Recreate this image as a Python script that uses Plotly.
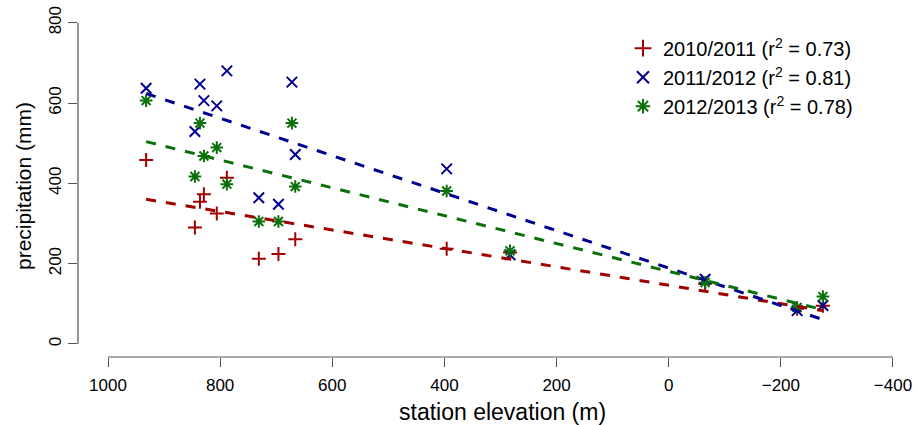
import numpy as np
import plotly.graph_objects as go

# ---- data ----
elevation = [932, 845, 836, 829, 806, 788, 731, 696, 672, 666, 396, 283, -65, -229, -275]

precip_2010_2011 = [458, 290, 354, 373, 325, 414, 212, 224, None, 261, 237, 228, 150, 88, 95]
precip_2011_2012 = [637, 529, 647, 606, 593, 680, 364, 348, 652, 472, 436, 222, 161, 83, 96]
precip_2012_2013 = [606, 417, 550, 468, 489, 398, 305, 305, 550, 392, 381, 232, 153, 91, 118]

series_names = ["2010/2011", "2011/2012", "2012/2013"]
r2_labels = ["0.73", "0.81", "0.78"]
series_colors = ["#a00000", "#000090", "#0a700a"]
series_symbols = ["cross-thin", "x-thin", "asterisk-open"]
series_sizes = [10, 10.5, 10.5]

x_ticks = [1000, 800, 600, 400, 200, 0, -200, -400]
x_ticktext = ["1000", "800", "600", "400", "200", "0", "\u2212200", "\u2212400"]
y_ticks = [0, 200, 400, 600, 800]

x_title = "station elevation (m)"
y_title = "precipitation (mm)"

all_series = [precip_2010_2011, precip_2011_2012, precip_2012_2013]

fig = go.Figure()

# points
for name, r2, vals, col, sym, sz in zip(series_names, r2_labels, all_series,
                                         series_colors, series_symbols, series_sizes):
    fig.add_trace(go.Scatter(
        x=elevation, y=vals, mode="markers",
        name=f"{name} (r<sup>2</sup> = {r2})",
        marker=dict(symbol=sym, size=sz, color=col,
                    line=dict(color=col, width=2)),
    ))

# regression lines (least squares fit of each series)
for vals, col in zip(all_series, series_colors):
    xs = np.array([e for e, v in zip(elevation, vals) if v is not None], dtype=float)
    ys = np.array([v for v in vals if v is not None], dtype=float)
    slope, intercept = np.polyfit(xs, ys, 1)
    xl = np.array([xs.max(), xs.min()])
    fig.add_trace(go.Scatter(
        x=xl, y=slope * xl + intercept, mode="lines", showlegend=False,
        line=dict(color=col, width=3, dash="10px,10px"), hoverinfo="skip",
    ))

axis_col = "#555555"
font_main = "Liberation Sans, Arial, Helvetica, sans-serif"

fig.add_shape(type="line", xref="x", yref="paper", x0=x_ticks[0], x1=x_ticks[-1],
              y0=0, y1=0, line=dict(color=axis_col, width=1.2))
fig.add_shape(type="line", xref="paper", yref="y", x0=0, x1=0,
              y0=y_ticks[0], y1=y_ticks[-1], line=dict(color=axis_col, width=1.2))

fig.add_annotation(text=x_title, xref="paper", yref="paper", x=0.517, y=-0.161,
                   xanchor="center", yanchor="middle", showarrow=False,
                   font=dict(size=23, family=font_main, color="black"))

fig.update_layout(
    width=918, height=425,
    margin=dict(l=78, r=18, t=15, b=68, autoexpand=False),
    paper_bgcolor="white", plot_bgcolor="white",
    font=dict(family=font_main, color="black", size=17),
    showlegend=True,
    legend=dict(x=0.663, y=0.96, xanchor="left", yanchor="top",
                font=dict(size=20, family=font_main), bgcolor="rgba(0,0,0,0)",
                tracegroupgap=0, itemsizing="constant"),
    xaxis=dict(range=[1053.5, -412.5], tickvals=x_ticks, ticktext=x_ticktext,
               ticks="outside", ticklen=9, tickwidth=1.2, tickcolor=axis_col,
               showline=False, showgrid=False, zeroline=False, automargin=False,
               tickfont=dict(size=17), ticklabelstandoff=4,
               ticklabeloverflow="allow"),
    yaxis=dict(range=[-32.4, 819.2], tickvals=y_ticks,
               ticks="outside", ticklen=9, tickwidth=1.2, tickcolor=axis_col,
               showline=False, showgrid=False, zeroline=False, tickangle=-90,
               automargin=False, ticklabeloverflow="allow",
               tickfont=dict(size=17),
               title=dict(text=y_title, font=dict(size=21), standoff=8)),
)

# remove the browser's default 8px page margin so the figure fills the window
fig.write_html("out.html", config={"displayModeBar": False},
               post_script="document.body.style.margin='0';")
